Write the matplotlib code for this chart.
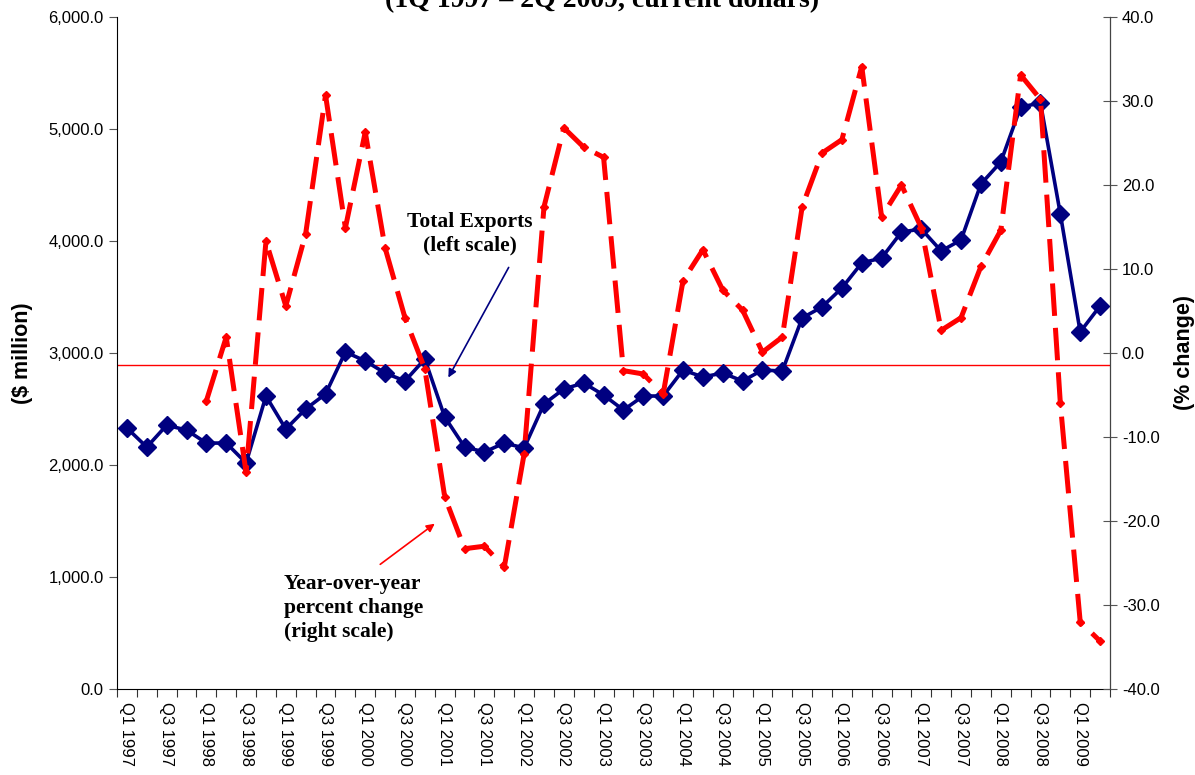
import matplotlib
matplotlib.use("Agg")
import matplotlib.pyplot as plt
import numpy as np

quarters = [f"Q{q} {y}" for y in range(1997, 2010) for q in (1, 2, 3, 4)][:50]

total_exports = [
    2330, 2160, 2355, 2312, 2196, 2196, 2018, 2616,
    2321, 2500, 2634, 3009, 2929, 2821, 2750, 2946,
    2429, 2161, 2116, 2196, 2152, 2545, 2679, 2732,
    2625, 2491, 2616, 2616, 2848, 2786, 2821, 2750,
    2848, 2839, 3313, 3411, 3580, 3804, 3848, 4080,
    4107, 3911, 4009, 4509, 4705, 5196, 5232, 4241,
    3188, 3420,
]

yoy_change = [
    None, None, None, None,
    -5.7, 1.9, -14.2, 13.3, 5.6, 14.2, 30.7, 14.9,
    26.3, 12.5, 4.2, -1.9, -17.1, -23.3, -23.0, -25.5,
    -12.0, 17.4, 26.8, 24.5, 23.3, -2.1, -2.5, -4.9,
    8.6, 12.3, 7.5, 5.1, 0.1, 1.9, 17.4, 23.8,
    25.4, 34.1, 16.2, 20.0, 14.9, 2.7, 4.2, 10.3,
    14.6, 33.1, 30.2, -6.0, -32.0, -34.3,
]

reference_level = 2893

left_ticks = [0, 1000, 2000, 3000, 4000, 5000, 6000]
right_ticks = [-40, -30, -20, -10, 0, 10, 20, 30, 40]

plt.rcParams['font.family'] = ['Liberation Sans', 'DejaVu Sans']

fig = plt.figure(figsize=(11.95, 7.75), dpi=100)
ax = fig.add_axes([117/1195, 1-689/775, (1110-117)/1195, (689-17)/775])
ax2 = ax.twinx()

x = np.arange(len(quarters))
ax.plot(x, total_exports, color='#000080', lw=2.6, marker='D', ms=9,
        zorder=3)
ax.axhline(reference_level, color='#ff0000', lw=1.0, zorder=2)

yoy = np.array([np.nan if v is None else v for v in yoy_change], dtype=float)
ax2.plot(x, yoy, color='#ff0000', lw=3.6, marker='D', ms=4.5,
         dashes=(6.5, 2.4), zorder=2)

ax.set_xlim(-0.5, len(quarters) - 0.5)
ax.set_ylim(0, 6000)
ax2.set_ylim(-40, 40)
ax.set_yticks(left_ticks)
ax.set_yticklabels([f"{v:,.1f}" for v in left_ticks])
ax2.set_yticks(right_ticks)
ax2.set_yticklabels([f"{v:.1f}" for v in right_ticks])

ax.set_xticks(np.arange(-0.5, len(quarters)), minor=False)
ax.set_xticklabels([])
ax.set_xticks(x[::2], minor=True)
ax.set_xticklabels(quarters[::2], minor=True, rotation=270, fontsize=12,
                   va='top', ha='center')
ax.tick_params(axis='x', which='major', length=6, direction='out', color='#333333')
ax.tick_params(axis='x', which='minor', length=0, pad=9)

ax.tick_params(axis='y', length=6, direction='out', labelsize=12, color='#555555')
ax2.tick_params(axis='y', length=10, direction='inout', labelsize=12, color='#555555')

ax.spines['top'].set_visible(False)
ax2.spines['top'].set_visible(False)
ax2.spines['left'].set_visible(False)
ax2.spines['bottom'].set_visible(False)
ax2.spines['right'].set_color('#444444')

ax.set_ylabel('($ million)', fontsize=15.5, fontweight='bold')
ax2.set_ylabel('(% change)', fontsize=15.5, fontweight='bold', rotation=90)
ax.yaxis.set_label_coords(-0.085, 0.5)
ax2.yaxis.set_label_coords(1.0645, 0.5)

serif = ['Liberation Serif', 'DejaVu Serif']
fig.text(602/1195, 1 - 7/775, '(1Q 1997 \u2013 2Q 2009, current dollars)',
         ha='center', va='baseline', fontsize=20, fontweight='bold', family=serif)

fig.text(470/1195, 1 - 234/775, 'Total Exports\n(left scale)', ha='center',
         va='center', fontsize=15.5, fontweight='bold', family=serif,
         linespacing=1.25)
fig.text(284/1195, 1 - 608/775, 'Year-over-year\npercent change\n(right scale)',
         ha='left', va='center', fontsize=15.5, fontweight='bold', family=serif,
         linespacing=1.25)

fig.patches.append(matplotlib.patches.FancyArrowPatch(
    (510/1195, 1 - 265/775), (447/1195, 1 - 380/775), transform=fig.transFigure,
    arrowstyle='-|>', mutation_scale=12, color='#000080', lw=1.2))
fig.patches.append(matplotlib.patches.FancyArrowPatch(
    (378/1195, 1 - 566/775), (437/1195, 1 - 522/775), transform=fig.transFigure,
    arrowstyle='-|>', mutation_scale=12, color='#ff0000', lw=1.2))

fig.savefig('out.png', dpi=100)
